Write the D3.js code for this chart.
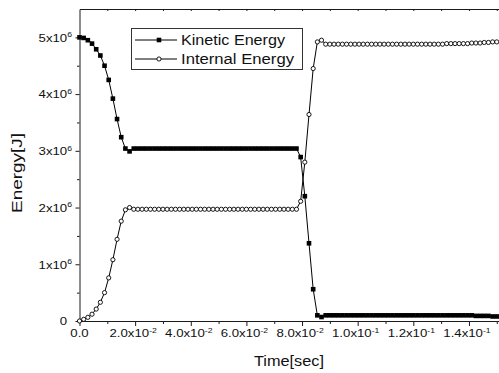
<!DOCTYPE html>
<html>
<head>
<meta charset="utf-8">
<script src="https://cdn.jsdelivr.net/npm/d3@7"></script>
<style>
  body { margin: 0; background: #fff; }
  text { font-family: "Liberation Sans", Arial, sans-serif; fill: #111; }
</style>
</head>
<body>
<svg id="main-chart"></svg>
<script>
// time [s]
const time = [
  0.0000, 0.0015, 0.0030, 0.0045, 0.0060, 0.0075, 0.0090, 0.0105, 0.0120, 0.0135,
  0.0150, 0.0165, 0.0180, 0.0195, 0.0210, 0.0225, 0.0240, 0.0255, 0.0270, 0.0285,
  0.0300, 0.0315, 0.0330, 0.0345, 0.0360, 0.0375, 0.0390, 0.0405, 0.0420, 0.0435,
  0.0450, 0.0465, 0.0480, 0.0495, 0.0510, 0.0525, 0.0540, 0.0555, 0.0570, 0.0585,
  0.0600, 0.0615, 0.0630, 0.0645, 0.0660, 0.0675, 0.0690, 0.0705, 0.0720, 0.0735,
  0.0750, 0.0765, 0.0780, 0.0795, 0.0810, 0.0825, 0.0840, 0.0855, 0.0870, 0.0885,
  0.0900, 0.0915, 0.0930, 0.0945, 0.0960, 0.0975, 0.0990, 0.1005, 0.1020, 0.1035,
  0.1050, 0.1065, 0.1080, 0.1095, 0.1110, 0.1125, 0.1140, 0.1155, 0.1170, 0.1185,
  0.1200, 0.1215, 0.1230, 0.1245, 0.1260, 0.1275, 0.1290, 0.1305, 0.1320, 0.1335,
  0.1350, 0.1365, 0.1380, 0.1395, 0.1410, 0.1425, 0.1440, 0.1455, 0.1470, 0.1485,
  0.1500
];

// energies in units of 1e6 J
const kinetic = [
  5.00, 4.99, 4.95, 4.89, 4.79, 4.68, 4.50, 4.25, 3.92, 3.56,
  3.24, 3.04, 2.99, 3.04, 3.04, 3.04, 3.04, 3.04, 3.04, 3.04,
  3.04, 3.04, 3.04, 3.04, 3.04, 3.04, 3.04, 3.04, 3.04, 3.04,
  3.04, 3.04, 3.04, 3.04, 3.04, 3.04, 3.04, 3.04, 3.04, 3.04,
  3.04, 3.04, 3.04, 3.04, 3.04, 3.04, 3.04, 3.04, 3.04, 3.04,
  3.04, 3.04, 3.04, 2.89, 2.20, 1.37, 0.56, 0.10, 0.07, 0.10,
  0.10, 0.10, 0.10, 0.10, 0.10, 0.10, 0.10, 0.10, 0.10, 0.10,
  0.10, 0.10, 0.10, 0.10, 0.10, 0.10, 0.10, 0.10, 0.10, 0.10,
  0.10, 0.10, 0.10, 0.10, 0.10, 0.10, 0.10, 0.10, 0.10, 0.10,
  0.10, 0.10, 0.10, 0.10, 0.10, 0.09, 0.09, 0.09, 0.09, 0.08,
  0.08
];

const internal = [
  0.00, 0.03, 0.065, 0.12, 0.21, 0.33, 0.50, 0.76, 1.08, 1.44,
  1.76, 1.96, 2.00, 1.97, 1.97, 1.97, 1.97, 1.97, 1.97, 1.97,
  1.97, 1.97, 1.97, 1.97, 1.97, 1.97, 1.97, 1.97, 1.97, 1.97,
  1.97, 1.97, 1.97, 1.97, 1.97, 1.97, 1.97, 1.97, 1.97, 1.97,
  1.97, 1.97, 1.97, 1.97, 1.97, 1.97, 1.97, 1.97, 1.97, 1.97,
  1.97, 1.97, 1.97, 2.11, 2.80, 3.64, 4.45, 4.92, 4.95, 4.88,
  4.88, 4.88, 4.88, 4.88, 4.88, 4.88, 4.88, 4.88, 4.88, 4.88,
  4.88, 4.88, 4.88, 4.88, 4.88, 4.88, 4.88, 4.88, 4.88, 4.88,
  4.88, 4.88, 4.88, 4.88, 4.88, 4.88, 4.88, 4.88, 4.89, 4.89,
  4.89, 4.89, 4.89, 4.89, 4.90, 4.90, 4.90, 4.91, 4.91, 4.92,
  4.92
];

const yTicks = [0, 1, 2, 3, 4, 5];
const yTickLabels = ["0", "1x10^6", "2x10^6", "3x10^6", "4x10^6", "5x10^6"];
const yMinor = [0.5, 1.5, 2.5, 3.5, 4.5];
const xTicks = [0, 0.02, 0.04, 0.06, 0.08, 0.10, 0.12, 0.14];
const xTickLabels = ["0.0", "2.0x10^-2", "4.0x10^-2", "6.0x10^-2", "8.0x10^-2", "1.0x10^-1", "1.2x10^-1", "1.4x10^-1"];
const xMinor = [0.01, 0.03, 0.05, 0.07, 0.09, 0.11, 0.13, 0.15];
const xTop = [0.01, 0.02, 0.03, 0.04, 0.05, 0.06, 0.07, 0.08, 0.09, 0.10, 0.11, 0.12, 0.13, 0.14, 0.15];
const seriesNames = ["Kinetic Energy", "Internal Energy"];

const width = 499, height = 373;
const stretch = 1.15;

const svg = d3.select("#main-chart")
    .attr("width", width)
    .attr("height", height);

const x = d3.scaleLinear().domain([0, 0.1508]).range([79.5, 499]);
const y = d3.scaleLinear().domain([0, 5.5]).range([321, 9]);

// axes
const axisColor = "#1a1a1a";
function styleAxis(g) {
  g.selectAll("path, line").attr("stroke", axisColor).attr("stroke-width", 1);
  g.selectAll("text").remove();
}

svg.append("g").attr("transform", "translate(0,321)")
    .call(d3.axisBottom(x).tickValues(xTicks).tickSize(5).tickSizeOuter(0).tickFormat(""))
    .call(styleAxis);
svg.append("g").attr("transform", "translate(0,321)")
    .call(d3.axisBottom(x).tickValues(xMinor).tickSize(3).tickSizeOuter(0).tickFormat(""))
    .call(styleAxis)
    .call(g => g.select(".domain").remove());

svg.append("g").attr("transform", "translate(79.5,0)")
    .call(d3.axisLeft(y).tickValues(yTicks).tickSize(4).tickSizeOuter(0).tickFormat(""))
    .call(styleAxis);
svg.append("g").attr("transform", "translate(79.5,0)")
    .call(d3.axisLeft(y).tickValues(yMinor).tickSize(2.5).tickSizeOuter(0).tickFormat(""))
    .call(styleAxis)
    .call(g => g.select(".domain").remove());

svg.append("g").attr("transform", "translate(0,9)")
    .call(d3.axisTop(x).tickValues(xTop).tickSize(-2).tickSizeOuter(0).tickFormat(""))
    .call(styleAxis);

// tick labels with superscripts
function sciLabel(sel, label, supDy) {
  const [base, exp] = label.split("^");
  sel.append("tspan").text(base);
  if (exp) sel.append("tspan").attr("font-size", 7.5).attr("dy", supDy).text(exp);
}

svg.append("g")
  .selectAll("text")
  .data(yTicks)
  .join("text")
    .attr("transform", (d, i) => `translate(${i === 0 ? 67 : 72},${y(d) + 4.3}) scale(${stretch},1)`)
    .attr("text-anchor", "end")
    .attr("font-size", 11.5)
    .each(function(d, i) { sciLabel(d3.select(this), yTickLabels[i], -4.5); });

svg.append("g")
  .selectAll("text")
  .data(xTicks)
  .join("text")
    .attr("transform", (d, i) => `translate(${i === 0 ? x(d) : x(d) - 2},337) scale(${stretch},1)`)
    .attr("text-anchor", "middle")
    .attr("font-size", 11.5)
    .each(function(d, i) { sciLabel(d3.select(this), xTickLabels[i], -4.5); });

// axis titles
svg.append("text")
    .attr("x", 289).attr("y", 366)
    .attr("text-anchor", "middle")
    .attr("font-size", 14)
    .attr("textLength", 70)
    .attr("lengthAdjust", "spacingAndGlyphs")
    .text("Time[sec]");

svg.append("text")
    .attr("transform", "translate(22,173) rotate(-90)")
    .attr("text-anchor", "middle")
    .attr("font-size", 14)
    .attr("textLength", 80)
    .attr("lengthAdjust", "spacingAndGlyphs")
    .text("Energy[J]");

// series
const line = d3.line()
    .x((d, i) => x(time[i]))
    .y(d => y(d));

svg.append("path")
    .attr("d", line(kinetic))
    .attr("fill", "none").attr("stroke", "#000").attr("stroke-width", 1);
svg.append("path")
    .attr("d", line(internal))
    .attr("fill", "none").attr("stroke", "#000").attr("stroke-width", 1);

svg.append("g")
  .selectAll("rect")
  .data(kinetic)
  .join("rect")
    .attr("x", (d, i) => x(time[i]) - 2.3)
    .attr("y", d => y(d) - 2.3)
    .attr("width", 4.6).attr("height", 4.6)
    .attr("fill", "#000");

svg.append("g")
  .selectAll("circle")
  .data(internal)
  .join("circle")
    .attr("cx", (d, i) => x(time[i]))
    .attr("cy", d => y(d))
    .attr("r", 2.1)
    .attr("fill", "#fff").attr("stroke", "#000").attr("stroke-width", 0.9);

// legend
const legend = svg.append("g");
legend.append("rect")
    .attr("x", 131.5).attr("y", 28.5)
    .attr("width", 171).attr("height", 41)
    .attr("fill", "#fff").attr("stroke", "#333").attr("stroke-width", 1);

const rows = legend.selectAll("g")
  .data(seriesNames)
  .join("g")
    .attr("transform", (d, i) => `translate(0,${i === 0 ? 40 : 59})`);
rows.append("line")
    .attr("x1", 135).attr("x2", 177)
    .attr("stroke", "#000").attr("stroke-width", 1);
rows.filter((d, i) => i === 0).append("rect")
    .attr("x", 156.7).attr("y", -2.3).attr("width", 4.6).attr("height", 4.6)
    .attr("fill", "#000");
rows.filter((d, i) => i === 1).append("circle")
    .attr("cx", 159).attr("cy", 0).attr("r", 2.1)
    .attr("fill", "#fff").attr("stroke", "#000").attr("stroke-width", 0.9);
rows.append("text")
    .attr("x", 181).attr("y", 5)
    .attr("font-size", 14)
    .attr("textLength", (d, i) => i === 0 ? 104 : 113)
    .attr("lengthAdjust", "spacingAndGlyphs")
    .text(d => d);
</script>
</body>
</html>
